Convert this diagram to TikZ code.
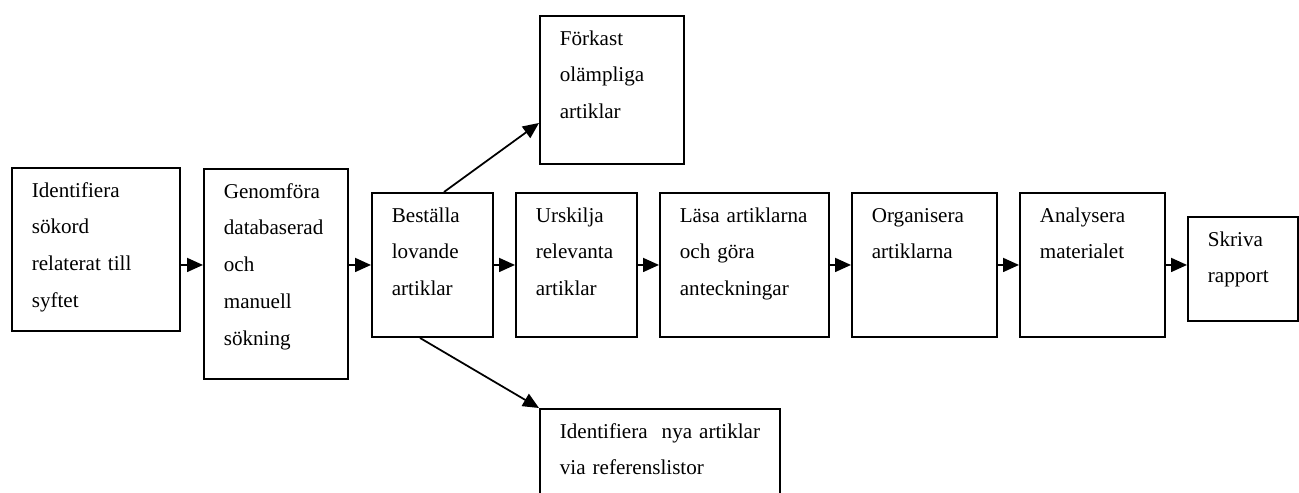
\documentclass[tikz,border=0pt]{standalone}
\usepackage{fontspec}
\setmainfont{Liberation Serif}
\usetikzlibrary{arrows.meta}

\begin{document}
\begin{tikzpicture}
    % Define styles
    \tikzset{
        stepbox/.style={rectangle, draw, line width=1.1pt, anchor=north west, inner sep=0pt},
        boxtext/.style={anchor=base west, inner sep=0pt, text width=4.5cm, align=left,
                        font=\fontsize{12}{21}\selectfont, xshift=0.41cm, yshift=-0.6cm},
        arrow/.style={-{Triangle[length=0.32cm,width=0.28cm]}, line width=1pt}
    }

    \clip (0,0) rectangle (25.98,-9.84);
    \useasboundingbox (0,0) rectangle (25.98,-9.84);

    % Nodes
    \node[stepbox, minimum width=3.36cm, minimum height=3.26cm] (identify) at (0.22,-3.34) {};
    \node[stepbox, minimum width=2.88cm, minimum height=4.20cm] (search) at (4.06,-3.36) {};
    \node[stepbox, minimum width=2.42cm, minimum height=2.88cm] (order) at (7.42,-3.84) {};
    \node[stepbox, minimum width=2.42cm, minimum height=2.88cm] (select) at (10.30,-3.84) {};
    \node[stepbox, minimum width=3.38cm, minimum height=2.88cm] (read) at (13.18,-3.84) {};
    \node[stepbox, minimum width=2.90cm, minimum height=2.88cm] (organise) at (17.02,-3.84) {};
    \node[stepbox, minimum width=2.90cm, minimum height=2.88cm] (analyse) at (20.38,-3.84) {};
    \node[stepbox, minimum width=2.20cm, minimum height=2.08cm] (report) at (23.74,-4.32) {};
    \node[stepbox, minimum width=2.88cm, minimum height=2.96cm] (reject) at (10.78,-0.30) {};
    \node[stepbox, minimum width=4.80cm, minimum height=2.40cm] (refs) at (10.78,-8.16) {};

    % Texts
    \node[boxtext] (identify_text) at (identify.north west) {Identifiera\\sökord\\relaterat till\\syftet};
    \node[boxtext] (search_text) at (search.north west) {Genomföra\\databaserad\\och\\manuell\\sökning};
    \node[boxtext] (order_text) at (order.north west) {Beställa\\lovande\\artiklar};
    \node[boxtext] (select_text) at (select.north west) {Urskilja\\relevanta\\artiklar};
    \node[boxtext] (read_text) at (read.north west) {Läsa artiklarna\\och göra\\anteckningar};
    \node[boxtext] (organise_text) at (organise.north west) {Organisera\\artiklarna};
    \node[boxtext] (analyse_text) at (analyse.north west) {Analysera\\materialet};
    \node[boxtext] (report_text) at (report.north west) {Skriva\\rapport};
    \node[boxtext] (reject_text) at (reject.north west) {Förkast\\olämpliga\\artiklar};
    \node[boxtext] (refs_text) at (refs.north west) {Identifiera~ nya artiklar\\via referenslistor};

    % Arrows
    \draw[arrow] (identify.east |- order) -- (search.west |- order);
    \draw[arrow] (search.east |- order) -- (order.west);
    \draw[arrow] (order.east) -- (select.west);
    \draw[arrow] (select.east) -- (read.west);
    \draw[arrow] (read.east) -- (organise.west);
    \draw[arrow] (organise.east) -- (analyse.west);
    \draw[arrow] (analyse.east) -- (report.west |- order);
    \draw[arrow] ([xshift=0.23cm]order.north) -- ([yshift=-0.66cm]reject.west);
    \draw[arrow] ([xshift=-0.25cm]order.south) -- (refs.north west);
\end{tikzpicture}
\end{document}
